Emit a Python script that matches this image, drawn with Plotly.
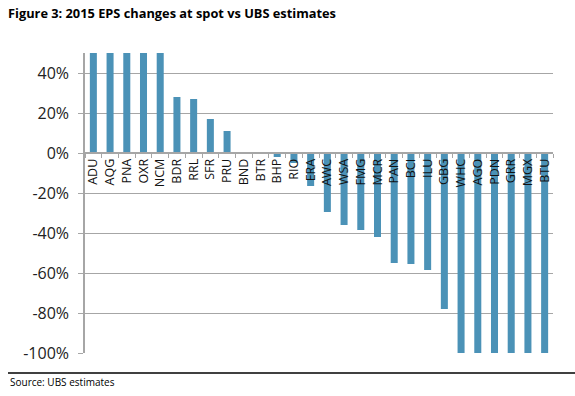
import plotly.graph_objects as go

categories = ["ADU", "AQG", "PNA", "OXR", "NCM", "BDR", "RRL", "SFR", "PRU", "BND",
              "BTR", "BHP", "RIO", "ERA", "AWC", "WSA", "FMG", "MCR", "PAN", "BCI",
              "ILU", "GBG", "WHC", "AGO", "PDN", "GRR", "MGX", "BTU"]
# EPS change at spot vs UBS estimates (%); first five exceed the axis top and are clipped
eps_change = [50, 50, 50, 50, 50, 28, 27, 17, 11, 0.5,
              0, -2, -5, -16.5, -29.5, -36, -38.5, -42, -55, -55.5,
              -58.5, -78, -100, -100, -100, -100, -100, -100]
y_ticks = [40, 20, 0, -20, -40, -60, -80, -100]
y_tick_labels = ["40%", "20%", "0%", "-20%", "-40%", "-60%", "-80%", "-100%"]

W, H = 575, 396
L, R, T, B = 85, 22, 53, 43
ymin, ymax = -100, 50

fig = go.Figure(go.Bar(
    x=categories, y=eps_change,
    marker=dict(color="#4B92B7", line=dict(width=0)),
))

fig.update_layout(
    width=W, height=H,
    margin=dict(l=L, r=R, t=T, b=B),
    plot_bgcolor="white", paper_bgcolor="white",
    bargap=0.58,
    showlegend=False,
    font=dict(family="Open Sans", color="#222222"),
    title=dict(text="<b>Figure 3: 2015 EPS changes at spot vs UBS estimates</b>",
               xref="container", yref="container", x=8 / W, y=1 - 14 / H,
               xanchor="left", yanchor="middle",
               font=dict(family="Open Sans", size=12.8, color="#000000")),
    xaxis=dict(
        anchor="free", position=(0 - ymin) / (ymax - ymin),
        showgrid=False, showline=True, linecolor="#A6A6A6", linewidth=1.5,
        ticks="outside", tickson="boundaries", ticklen=4, tickcolor="#A6A6A6",
        tickangle=-90, tickfont=dict(size=12.5, color="#111111"),
        ticklabelstandoff=0,
    ),
    yaxis=dict(
        range=[ymin, ymax], tickvals=y_ticks, ticktext=y_tick_labels,
        showgrid=True, gridcolor="#A6A6A6", gridwidth=1,
        showline=True, linecolor="#A6A6A6", linewidth=1.5,
        ticks="outside", ticklen=5, tickcolor="#A6A6A6",
        tickfont=dict(size=16, color="#222222"),
        ticklabelstandoff=6,
        zeroline=False,
    ),
)

fig.add_shape(type="line", xref="paper", yref="paper",
              x0=(8 - L) / (W - L - R), x1=(W - L) / (W - L - R),
              y0=-(373 - (H - B)) / (H - T - B), y1=-(373 - (H - B)) / (H - T - B),
              line=dict(color="#000000", width=1.5))

fig.add_annotation(text="Source: UBS estimates", xref="paper", yref="paper",
                   x=(8 - L) / (W - L - R), y=-(382 - (H - B)) / (H - T - B),
                   xanchor="left", yanchor="middle", showarrow=False,
                   font=dict(family="Open Sans", size=10, color="#000000"))

fig.write_html("out.html", config={"displayModeBar": False},
               post_script="document.body.style.margin='0';document.body.style.overflow='hidden';")
